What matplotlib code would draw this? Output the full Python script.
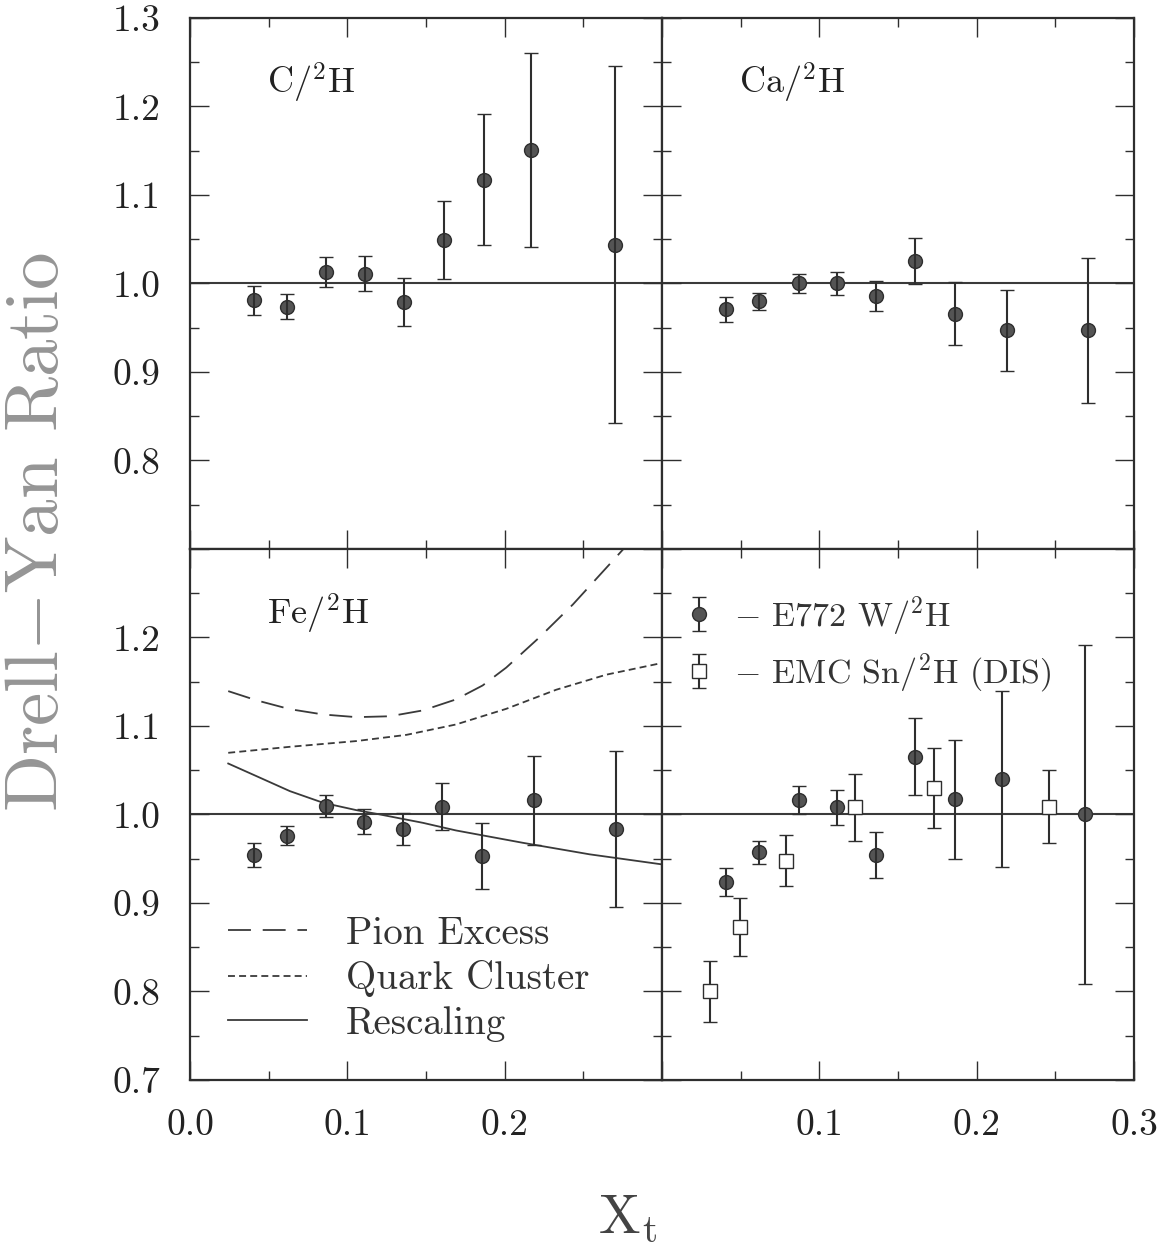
import matplotlib
matplotlib.use('Agg')
import matplotlib.pyplot as plt
from matplotlib.ticker import MultipleLocator, FuncFormatter

plt.rcParams['font.family'] = 'cmr10'
plt.rcParams['mathtext.fontset'] = 'cm'
plt.rcParams['axes.unicode_minus'] = False
plt.rcParams['lines.scale_dashes'] = False

# ---------------- data ----------------
c_x = [0.0407, 0.0618, 0.0867, 0.111, 0.136, 0.1614, 0.1866, 0.2166, 0.270]
c_y = [0.981, 0.974, 1.013, 1.011, 0.979, 1.049, 1.117, 1.151, 1.044]
c_err = [0.0165, 0.014, 0.0165, 0.020, 0.027, 0.044, 0.074, 0.110, 0.202]

ca_x = [0.0409, 0.0619, 0.0871, 0.111, 0.136, 0.161, 0.186, 0.219, 0.271]
ca_y = [0.971, 0.980, 1.000, 1.000, 0.986, 1.025, 0.966, 0.947, 0.947]
ca_err = [0.014, 0.0095, 0.011, 0.0128, 0.017, 0.026, 0.0355, 0.046, 0.082]

fe_x = [0.0406, 0.0614, 0.0863, 0.1103, 0.1354, 0.1604, 0.1854, 0.2184, 0.2705]
fe_y = [0.954, 0.976, 1.0095, 0.992, 0.984, 1.009, 0.953, 1.016, 0.984]
fe_err = [0.0135, 0.011, 0.012, 0.014, 0.018, 0.027, 0.037, 0.050, 0.088]

w_x = [0.0409, 0.0619, 0.0871, 0.111, 0.136, 0.161, 0.186, 0.2159, 0.269]
w_y = [0.924, 0.9575, 1.016, 1.008, 0.954, 1.0655, 1.017, 1.040, 1.000]
w_err = [0.016, 0.013, 0.016, 0.020, 0.026, 0.0435, 0.067, 0.099, 0.192]

emc_x = [0.0307, 0.0498, 0.0788, 0.1229, 0.1727, 0.246]
emc_y = [0.800, 0.873, 0.948, 1.008, 1.030, 1.009]
emc_err = [0.034, 0.0325, 0.029, 0.0375, 0.045, 0.041]

pion_x = [0.0243, 0.0423, 0.0635, 0.0847, 0.1058, 0.127, 0.148, 0.169, 0.186,
          0.201, 0.222, 0.2434, 0.2709, 0.2760]
pion_y = [1.1394, 1.129, 1.119, 1.113, 1.110, 1.111, 1.1176, 1.130, 1.1458,
          1.166, 1.200, 1.2374, 1.291, 1.301]

quark_x = [0.0243, 0.0635, 0.1058, 0.1376, 0.169, 0.201, 0.2328, 0.2646, 0.3005]
quark_y = [1.0697, 1.0765, 1.083, 1.090, 1.1017, 1.1194, 1.141, 1.158, 1.1714]

resc_x = [0.0243, 0.0423, 0.0635, 0.0847, 0.1058, 0.1185, 0.148, 0.169, 0.2116,
          0.254, 0.3005]
resc_y = [1.0576, 1.0433, 1.0264, 1.0132, 1.0049, 1.0008, 0.9906, 0.982, 0.968,
          0.955, 0.9435]

panel_labels = [r'C/$^2$H', r'Ca/$^2$H', r'Fe/$^2$H']
curve_labels = ['Pion Excess', 'Quark Cluster', 'Rescaling']
legend_labels = [r'$-$ E772 W/$^2$H', r'$-$ EMC Sn/$^2$H (DIS)']

# ---------------- layout ----------------
W, H = 1167, 1245
fig = plt.figure(figsize=(W / 100, H / 100), dpi=100)
L = 190 / W
PW = 472 / W
B = (H - 1080) / H
PH = 531 / H

ax_tl = fig.add_axes([L, B + PH, PW, PH])
ax_tr = fig.add_axes([L + PW, B + PH, PW, PH])
ax_bl = fig.add_axes([L, B, PW, PH])
ax_br = fig.add_axes([L + PW, B, PW, PH])

DARK = '#2e2e2e'
FILL = '#545454'
LINEC = '#3a3a3a'


def fmt_factory(skip):
    def f(v, pos):
        for s in skip:
            if abs(v - s) < 1e-6:
                return ''
        return '%.1f' % v
    return FuncFormatter(f)


def style_axes(ax, xlab, ylab, xskip, yskip):
    ax.set_xlim(0.0, 0.3)
    ax.set_ylim(0.7, 1.3)
    ax.xaxis.set_major_locator(MultipleLocator(0.1))
    ax.xaxis.set_minor_locator(MultipleLocator(0.05))
    ax.yaxis.set_major_locator(MultipleLocator(0.1))
    ax.yaxis.set_minor_locator(MultipleLocator(0.05))
    ax.tick_params(which='both', direction='in', top=True, right=True,
                   color=DARK, labelsize=27, pad=21, labelcolor='#222222',
                   labelbottom=xlab, labelleft=ylab)
    ax.tick_params(which='major', length=13.5, width=1.0)
    ax.tick_params(which='minor', length=6.5, width=1.0)
    ax.xaxis.set_major_formatter(fmt_factory(xskip))
    ax.yaxis.set_major_formatter(fmt_factory(yskip))
    for sp in ax.spines.values():
        sp.set_linewidth(1.6)
        sp.set_color(DARK)
    ax.axhline(1.0, color=LINEC, lw=1.5, zorder=1)


style_axes(ax_tl, False, True, [0.3], [0.7])
style_axes(ax_tr, False, False, [0.0], [0.7])
style_axes(ax_bl, True, True, [0.3], [1.3])
style_axes(ax_br, True, False, [0.0], [1.3])

eb_kw = dict(fmt='o', ms=10, mfc=FILL, mec=DARK, mew=1.0, ecolor=DARK,
             elinewidth=1.5, capsize=4.7, capthick=1.5, barsabove=True, zorder=3)

ax_tl.errorbar(c_x, c_y, yerr=c_err, **eb_kw)
ax_tr.errorbar(ca_x, ca_y, yerr=ca_err, **eb_kw)
ax_bl.errorbar(fe_x, fe_y, yerr=fe_err, **eb_kw)
h_w = ax_br.errorbar(w_x, w_y, yerr=w_err, **eb_kw)
h_emc = ax_br.errorbar(emc_x, emc_y, yerr=emc_err, fmt='s', ms=10, mfc='white',
                       mec=DARK, mew=1.0, ecolor=DARK, elinewidth=1.5,
                       capsize=4.7, capthick=1.5, zorder=3)

for ax, lab in zip([ax_tl, ax_tr, ax_bl], panel_labels):
    ax.text(0.163, 0.858, lab, transform=ax.transAxes, fontsize=26,
            color='#222222', ha='left', va='baseline')

l1, = ax_bl.plot(pion_x, pion_y, color=LINEC, lw=1.3, dashes=(16.5, 8.5))
l2, = ax_bl.plot(quark_x, quark_y, color=LINEC, lw=1.3, dashes=(5.0, 3.0))
l3, = ax_bl.plot(resc_x, resc_y, color=LINEC, lw=1.3)

ax_bl.legend([l1, l2, l3], curve_labels, loc='lower left',
             bbox_to_anchor=(0.08, 0.072), frameon=False, fontsize=28,
             handlelength=2.03, handletextpad=1.0, labelspacing=0.22,
             borderpad=0, borderaxespad=0, labelcolor='#333333')

ax_br.legend([h_w, h_emc], legend_labels, loc='upper left',
             bbox_to_anchor=(0.045, 0.915), frameon=False, fontsize=24.5,
             handlelength=0.9, handletextpad=0.6, labelspacing=0.4,
             borderpad=0, borderaxespad=0, labelcolor='#333333')

fig.text(58 / W, 1 - 532 / H, r'Drell$-$Yan Ratio', rotation=90, fontsize=54,
         color='#959595', ha='center', va='baseline', rotation_mode='anchor')
fig.text(628 / W, 1 - 1232 / H, r'$\mathrm{X_t}$', fontsize=40,
         color='#444444', ha='center', va='baseline')

fig.savefig('out.png', dpi=100)
